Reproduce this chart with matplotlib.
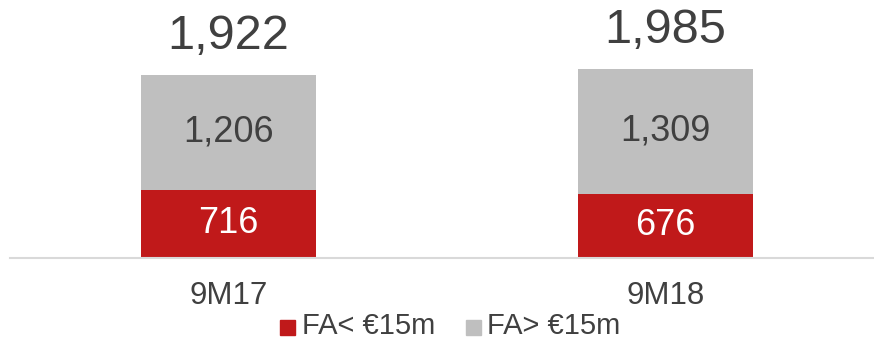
import matplotlib
matplotlib.use("Agg")
import matplotlib.pyplot as plt
from matplotlib.patches import Rectangle

plt.rcParams['font.family'] = ['Liberation Sans', 'DejaVu Sans']

categories = ["9M17", "9M18"]
small_fa = [716, 676]       # FA< €15m
large_fa = [1206, 1309]     # FA> €15m
totals = [1922, 1985]
legend_labels = ["FA< €15m", "FA> €15m"]

RED = "#C0191A"
GRAY = "#BFBFBF"
TEXT = "#404040"

W, H = 874, 343
fig = plt.figure(figsize=(W / 100, H / 100), dpi=100)
ax = fig.add_axes([10 / W, 85 / H, 863 / W, 258 / H])

x = list(range(len(categories)))
ax.bar(x, small_fa, width=0.4, color=RED, zorder=2)
ax.bar(x, large_fa, width=0.4, bottom=small_fa, color=GRAY, zorder=2)

ax.set_xlim(-0.5, 1.475)
ax.set_ylim(0, 2710)
for s in ["top", "right", "left"]:
    ax.spines[s].set_visible(False)
ax.spines["bottom"].set_color("#D9D9D9")
ax.spines["bottom"].set_linewidth(1.5)
ax.set_yticks([])
ax.set_xticks([])

for xi, lo, hi, tot in zip(x, small_fa, large_fa, totals):
    ax.text(xi, lo / 2, f"{lo:,}", ha="center", va="center",
            fontsize=26, color="white", zorder=3)
    ax.text(xi, lo + hi / 2, f"{hi:,}", ha="center", va="center",
            fontsize=26, color=TEXT, zorder=3)
    ax.annotate(f"{tot:,}", (xi, tot), xytext=(0, 19), textcoords="offset points",
                ha="center", va="baseline", fontsize=35, color=TEXT)

trans = ax.get_xaxis_transform()
for xi, c in zip(x, categories):
    ax.text(xi, -38 / 258, c, transform=trans,
            ha="center", va="center", fontsize=22.5, color=TEXT)

# legend drawn in figure pixel coordinates
for px, col, lab in [(280, RED, legend_labels[0]), (466, GRAY, legend_labels[1])]:
    fig.patches.append(Rectangle((px / W, (H - 335) / H), 15 / W, 15 / H,
                                 transform=fig.transFigure, color=col))
    fig.text((px + 21.5) / W, (H - 326) / H, lab, ha="left", va="center",
             fontsize=21, color=TEXT)

fig.savefig("out.png", dpi=100)
